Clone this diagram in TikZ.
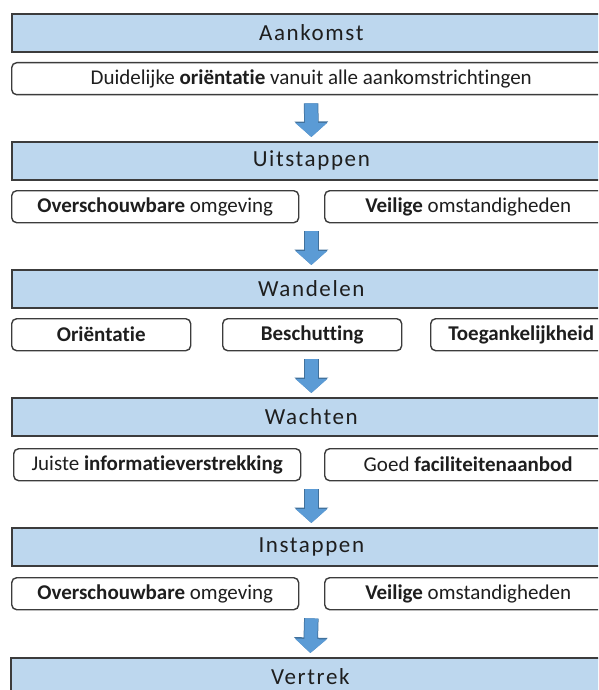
\documentclass[tikz,border=0pt]{standalone}
\usepackage{fontspec}
\setmainfont{Carlito}[Ligatures={NoCommon}]
\newfontfamily\headfont[LetterSpace=7,Ligatures={NoCommon}]{Carlito}
\usetikzlibrary{arrows.meta}

\definecolor{headblue}{HTML}{BDD7EE}
\definecolor{arrowblue}{HTML}{5B9BD5}
\definecolor{arrowedge}{HTML}{41719C}
\definecolor{edgegray}{HTML}{3C3C3C}
\definecolor{textgray}{HTML}{1E1E1E}

\begin{document}
\begin{tikzpicture}[x=1pt,y=-1pt,
	phase/.style={draw=edgegray, line width=1.7pt, fill=headblue, anchor=north west,
		minimum width=599pt, minimum height=38pt, inner sep=0pt,
		text=textgray, font=\headfont\fontsize{23}{25}\selectfont},
	aspect/.style={draw=edgegray, line width=1.4pt, fill=white, rounded corners=5pt,
		anchor=north west, minimum height=32pt, inner sep=0pt,
		text=textgray, font=\fontsize{21}{23}\selectfont},
	flow/.style={arrowblue, line width=13pt, -{Triangle[width=31pt,length=14pt]},
		preaction={draw=arrowedge, line width=14.5pt, -{Triangle[width=33pt,length=15.5pt]}}}]
	
	\useasboundingbox (0,0) rectangle (598,690);
	\clip (0,0) rectangle (598,690);
	
	% Aankomst
	\node[phase] (aankomst) at (11,13) {Aankomst};
	\node[aspect, minimum width=599pt] (duidelijk) at (11,62) {Duidelijke \textbf{oriëntatie} vanuit alle aankomstrichtingen};
	
	% Uitstappen
	\node[phase] (uitstappen) at (11,141) {Uitstappen};
	\node[aspect, minimum width=287pt] (omgeving1) at (11,190) {\textbf{Overschouwbare} omgeving};
	\node[aspect, minimum width=287pt] (veilig1) at (324,190) {\textbf{Veilige} omstandigheden};
	
	% Wandelen
	\node[phase] (wandelen) at (11,269) {Wandelen};
	\node[aspect, minimum width=179pt] (orientatie) at (11,318) {\textbf{Oriëntatie}};
	\node[aspect, minimum width=179pt] (beschutting) at (222,318) {\textbf{Beschutting}};
	\node[aspect, minimum width=181pt] (toegang) at (430,318) {\textbf{Toegankelijkheid}};
	
	% Wachten
	\node[phase] (wachten) at (11,397) {Wachten};
	\node[aspect, minimum width=287pt] (informatie) at (13,448) {Juiste \textbf{informatieverstrekking}};
	\node[aspect, minimum width=287pt] (faciliteit) at (324,448) {Goed \textbf{faciliteitenaanbod}};
	
	% Instappen
	\node[phase] (instappen) at (11,527) {Instappen};
	\node[aspect, minimum width=287pt] (omgeving2) at (11,577) {\textbf{Overschouwbare} omgeving};
	\node[aspect, minimum width=287pt] (veilig2) at (324,577) {\textbf{Veilige} omstandigheden};
	
	% Vertrek
	\node[phase] (vertrek) at (10,657) {Vertrek};
	
	% Draw flow arrows
	\draw[flow] ([yshift=-8pt]duidelijk.south) -- ([yshift=4pt]uitstappen.north);
	\draw[flow] ([yshift=-8pt]uitstappen.south |- omgeving1.south) -- ([yshift=4pt]wandelen.north);
	\draw[flow] ([yshift=-8pt]wandelen.south |- beschutting.south) -- ([yshift=4pt]wachten.north);
	\draw[flow] ([yshift=-8pt]wachten.south |- informatie.south) -- ([yshift=4pt]instappen.north);
	\draw[flow] ([yshift=-8pt]instappen.south |- omgeving2.south) -- ([yshift=4pt]vertrek.north);
	
\end{tikzpicture}
\end{document}
